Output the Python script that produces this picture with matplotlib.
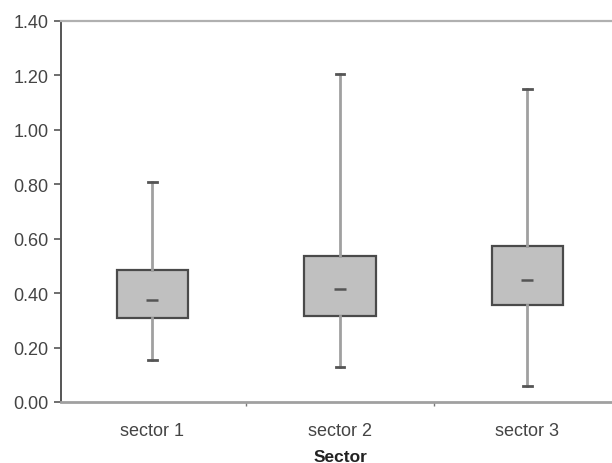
import matplotlib
matplotlib.use("Agg")
import matplotlib.pyplot as plt

plt.rcParams['font.family'] = ['Liberation Sans', 'DejaVu Sans']

categories = ["sector 1", "sector 2", "sector 3"]
whisker_low = [0.154, 0.130, 0.058]
q1 = [0.309, 0.317, 0.358]
median = [0.375, 0.415, 0.447]
q3 = [0.486, 0.536, 0.575]
whisker_high = [0.81, 1.206, 1.15]
yticks = [0.0, 0.2, 0.4, 0.6, 0.8, 1.0, 1.2, 1.4]
xlabel = "Sector"

fig = plt.figure(figsize=(6.12, 4.64), dpi=100)
ax = fig.add_axes([61/612, 1-403/464, 1-61/612, (403-22)/464])

stats = []
for i, c in enumerate(categories):
    stats.append(dict(label=c, whislo=whisker_low[i], q1=q1[i], med=median[i],
                      q3=q3[i], whishi=whisker_high[i], mean=median[i], fliers=[]))

pos = list(range(1, len(categories) + 1))
ax.bxp(stats, positions=pos, widths=0.38, patch_artist=True, showmeans=True,
       showfliers=False, capwidths=0.045,
       boxprops=dict(facecolor='#c0c0c0', edgecolor='#4a4a4a', linewidth=1.6),
       whiskerprops=dict(color='#a0a0a0', linewidth=2.0),
       capprops=dict(color='#555555', linewidth=2.0),
       medianprops=dict(linewidth=0),
       meanprops=dict(marker='_', markersize=8, markeredgewidth=1.8,
                      markeredgecolor='#555555', color='#555555'))

ax.set_ylim(0, 1.4)
ax.set_xlim(0.512, 3.451)
ax.set_yticks(yticks)
ax.set_yticklabels([f"{v:.2f}" for v in yticks])
ax.set_xticks(pos)
ax.set_xticklabels(categories)
ax.set_xticks([1.5, 2.5], minor=True)

ax.tick_params(axis='y', direction='out', length=5, width=1.2, color='#555555',
               pad=4, labelsize=13, labelcolor='#444444')
ax.tick_params(axis='x', which='major', length=0, pad=14.5, labelsize=13,
               labelcolor='#444444')
ax.tick_params(axis='x', which='minor', direction='out', length=3, width=1,
               color='#777777')

ax.spines['left'].set_color('#555555')
ax.spines['left'].set_linewidth(1.4)
ax.spines['bottom'].set_color('#a0a0a0')
ax.spines['bottom'].set_linewidth(2)
ax.spines['top'].set_color('#b0b0b0')
ax.spines['top'].set_linewidth(1.6)
ax.spines['right'].set_visible(False)

fig.text(340/612, 1-462/464, xlabel, ha='center', va='baseline', fontsize=12.5,
         fontweight='bold', color='#222222')

fig.savefig("out.png", dpi=100)
